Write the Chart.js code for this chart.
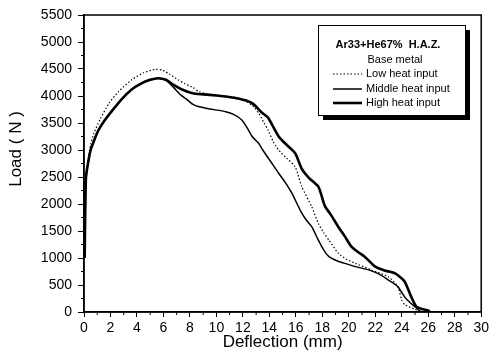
<!DOCTYPE html>
<html>
<head>
<meta charset="utf-8">
<script src="https://cdn.jsdelivr.net/npm/chart.js@4.4.0/dist/chart.umd.min.js"></script>
<style>
  html, body { margin: 0; padding: 0; background: #fff; }
  #wrap { width: 492px; height: 363px; }
</style>
</head>
<body>
<div id="wrap"><canvas id="loadChart"></canvas></div>
<script>
// Deflection (mm) / Load (N)
const lowX  = [0.05, 0.1, 0.15, 0.3, 0.5, 0.75, 1.2, 1.9, 2.6, 3.6, 4.5, 5.4, 5.9, 6.5, 7.1, 7.6, 8.2, 8.7, 9.5, 10.5, 11.3, 12.0, 12.7, 13.2, 13.6, 13.9, 14.3, 14.7, 15.3, 15.95, 16.45, 17.2, 17.7, 18.1, 18.5, 19.2, 19.8, 20.5, 21.7, 23.0, 23.7, 24.0, 24.25, 25.0, 25.4];
const lowY  = [1100, 1800, 2400, 2800, 3100, 3310, 3560, 3870, 4080, 4300, 4430, 4495, 4480, 4400, 4300, 4230, 4160, 4080, 4030, 4000, 3980, 3930, 3830, 3680, 3500, 3370, 3150, 3000, 2850, 2690, 2320, 1950, 1640, 1470, 1330, 1090, 980, 900, 780, 650, 470, 220, 130, 50, 0];

const midX  = [0.05, 0.1, 0.15, 0.3, 0.5, 0.8, 1.1, 1.5, 2.1, 2.8, 3.6, 4.3, 5.0, 5.6, 6.2, 6.8, 7.3, 7.7, 8.2, 8.7, 9.5, 10.7, 11.3, 11.9, 12.3, 12.7, 13.2, 13.5, 14.2, 14.7, 15.2, 15.7, 16.1, 16.45, 16.8, 17.2, 17.7, 18.1, 18.5, 19.1, 19.7, 20.5, 21.5, 22.3, 23.0, 23.7, 24.2, 24.6, 25.0, 25.3, 25.5];
const midY  = [1000, 2000, 2500, 2750, 3000, 3200, 3370, 3530, 3720, 3930, 4120, 4230, 4300, 4330, 4290, 4150, 4020, 3950, 3850, 3800, 3760, 3710, 3660, 3560, 3420, 3250, 3120, 3000, 2750, 2570, 2400, 2200, 2000, 1830, 1700, 1580, 1330, 1150, 1025, 950, 900, 840, 780, 700, 590, 470, 285, 180, 100, 30, 0];

const highX = [0.05, 0.1, 0.15, 0.3, 0.5, 0.8, 1.1, 1.5, 2.1, 2.8, 3.6, 4.3, 5.0, 5.6, 6.2, 6.8, 7.4, 8.2, 9.0, 10.0, 10.7, 11.5, 12.2, 12.8, 13.4, 13.9, 14.2, 14.7, 15.2, 15.95, 16.45, 17.0, 17.7, 18.2, 18.7, 19.2, 19.7, 20.2, 20.7, 21.2, 22.0, 22.7, 23.5, 24.2, 24.7, 25.1, 25.6, 26.0, 26.1];
const highY = [1000, 2000, 2500, 2750, 3000, 3200, 3370, 3530, 3720, 3930, 4120, 4230, 4300, 4330, 4300, 4200, 4120, 4050, 4030, 4010, 3990, 3960, 3920, 3850, 3700, 3600, 3470, 3250, 3120, 2940, 2650, 2480, 2320, 1960, 1780, 1580, 1400, 1210, 1110, 1025, 840, 770, 716, 570, 290, 100, 50, 30, 0];

const legendTitle = 'Ar33+He67%  H.A.Z.';
const legendSub = 'Base metal';
const seriesNames = ['Low heat input', 'Middle heat input', 'High heat input'];

const FONT = "'Liberation Sans', Arial, sans-serif";

const toPoints = (xs, ys) => xs.map((x, i) => ({ x: x, y: ys[i] }));

// frame, minor ticks, y title and the boxed legend
const extras = {
    id: 'extras',
    afterDraw(chart) {
        const { ctx, chartArea: a, scales } = chart;
        ctx.save();
        ctx.strokeStyle = '#000';
        ctx.lineWidth = 1.5;
        ctx.strokeRect(a.left, a.top, a.right - a.left, a.bottom - a.top);

        // minor ticks
        ctx.lineWidth = 1;
        ctx.beginPath();
        for (let v = 1; v < 30; v += 2) {
            const px = scales.x.getPixelForValue(v);
            ctx.moveTo(px, a.bottom);
            ctx.lineTo(px, a.bottom + 3);
        }
        for (let v = 250; v < 5500; v += 500) {
            const py = scales.y.getPixelForValue(v);
            ctx.moveTo(a.left, py);
            ctx.lineTo(a.left - 3, py);
        }
        ctx.stroke();

        // y axis title
        ctx.fillStyle = '#000';
        ctx.font = '17px ' + FONT;
        ctx.textAlign = 'center';
        ctx.textBaseline = 'middle';
        ctx.translate(16, 149);
        ctx.rotate(-Math.PI / 2);
        ctx.fillText('Load ( N )', 0, 0);
        ctx.restore();

        // legend box
        ctx.save();
        const bx = 318, by = 25, bw = 147, bh = 90;
        ctx.fillStyle = '#000';
        ctx.fillRect(bx + 5, by + 5, bw, bh);
        ctx.fillStyle = '#fff';
        ctx.fillRect(bx, by, bw, bh);
        ctx.strokeStyle = '#000';
        ctx.lineWidth = 1;
        ctx.strokeRect(bx + 0.5, by + 0.5, bw, bh);

        ctx.fillStyle = '#000';
        ctx.textBaseline = 'middle';
        ctx.textAlign = 'center';
        ctx.font = 'bold 11px ' + FONT;
        ctx.fillText(legendTitle, 388, 45);
        ctx.font = '11px ' + FONT;
        ctx.fillText(legendSub, 395, 60);
        ctx.textAlign = 'left';
        const rows = [74, 89, 103];
        chart.data.datasets.forEach((ds, i) => {
            ctx.save();
            ctx.strokeStyle = '#000';
            ctx.lineWidth = ds.borderWidth;
            ctx.setLineDash(ds.borderDash || []);
            ctx.beginPath();
            ctx.moveTo(333, rows[i]);
            ctx.lineTo(362, rows[i]);
            ctx.stroke();
            ctx.restore();
            ctx.fillText(ds.label, 366, rows[i]);
        });
        ctx.restore();
    }
};

const ctx = document.getElementById('loadChart');
new Chart(ctx, {
    type: 'scatter',
    data: {
        datasets: [
            {
                label: seriesNames[0],
                data: toPoints(lowX, lowY),
                showLine: true,
                borderColor: '#000',
                borderWidth: 1.2,
                borderDash: [1.5, 2],
                pointRadius: 0,
                tension: 0.2,
            },
            {
                label: seriesNames[1],
                data: toPoints(midX, midY),
                showLine: true,
                borderColor: '#000',
                borderWidth: 1.5,
                pointRadius: 0,
                tension: 0.2,
            },
            {
                label: seriesNames[2],
                data: toPoints(highX, highY),
                showLine: true,
                borderColor: '#000',
                borderWidth: 2.6,
                pointRadius: 0,
                tension: 0.2,
            },
        ],
    },
    options: {
        responsive: true,
        maintainAspectRatio: false,
        animation: false,
        layout: { padding: { top: 15, right: 9, left: 0, bottom: 0 } },
        plugins: {
            legend: { display: false },
            tooltip: { enabled: false },
        },
        scales: {
            x: {
                type: 'linear',
                min: 0,
                max: 30,
                afterFit: (scale) => { scale.height = 51; },
                ticks: {
                    stepSize: 2,
                    autoSkip: false,
                    maxRotation: 0,
                    padding: 3,
                    color: '#000',
                    font: { family: FONT, size: 14 },
                    callback: (v) => String(v),
                },
                grid: { drawOnChartArea: false, tickLength: 5, color: '#000', tickWidth: 1 },
                border: { color: '#000', width: 1.5 },
                title: {
                    display: true,
                    text: 'Deflection (mm)',
                    color: '#000',
                    font: { family: FONT, size: 17 },
                    padding: { top: 0, bottom: 10 },
                },
            },
            y: {
                min: 0,
                max: 5500,
                afterFit: (scale) => { scale.width = 84; },
                ticks: {
                    stepSize: 500,
                    autoSkip: false,
                    padding: 6,
                    color: '#000',
                    font: { family: FONT, size: 14 },
                    callback: (v) => String(v),
                },
                grid: { drawOnChartArea: false, tickLength: 6, color: '#000', tickWidth: 1 },
                border: { color: '#000', width: 1.5 },
            },
        },
    },
    plugins: [extras],
});
</script>
</body>
</html>
